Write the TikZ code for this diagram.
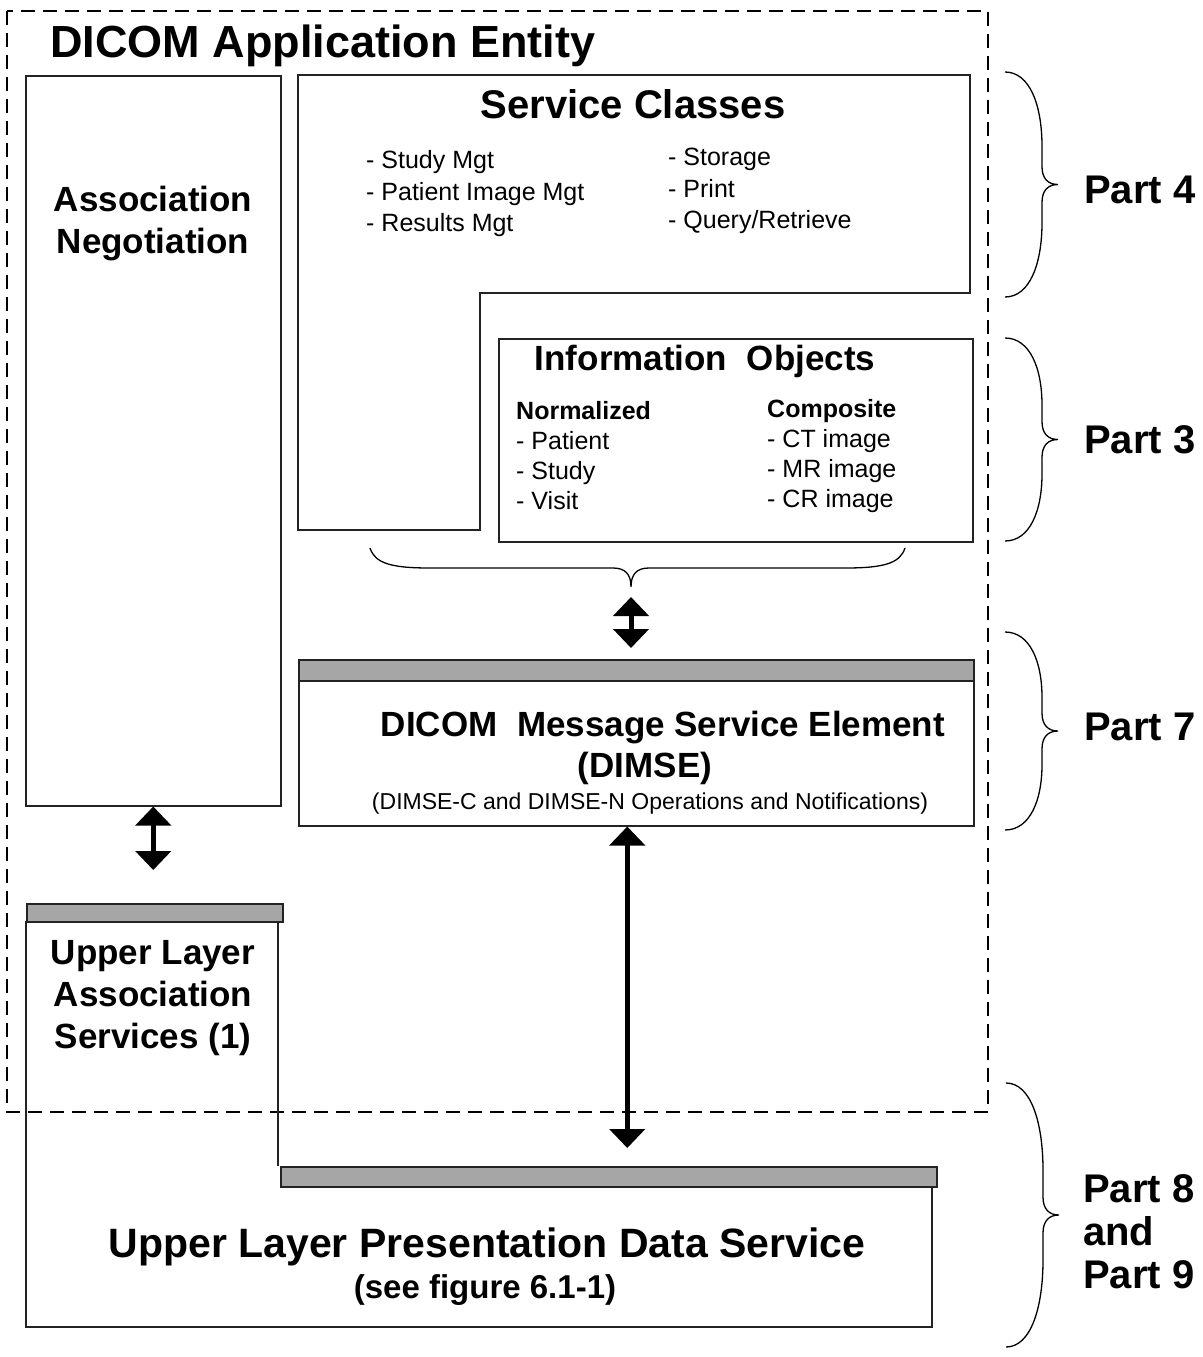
\documentclass[tikz,border=0pt]{standalone}
\usepackage{fontspec}
\setmainfont{Liberation Sans}
\usepackage{tikz}
\usetikzlibrary{arrows.meta}
\definecolor{bargray}{RGB}{166,166,166}
\definecolor{edgegray}{RGB}{35,35,35}

% right hand curly brace: left x, top y, bottom y
\newcommand{\partbrace}[3]{%
  \pgfmathsetmacro{\bh}{#3-#2}
  \pgfmathsetmacro{\bm}{(#2+#3)/2}
  \draw[bracestyle] (#1,#2) .. controls ({#1+25},#2) and ({#1+37},{#2+0.15*\bh}) .. ({#1+37},{#2+0.33*\bh})
    -- ({#1+37},{\bm-18}) .. controls ({#1+37},{\bm-6}) and ({#1+43},\bm) .. ({#1+53},\bm)
    .. controls ({#1+43},\bm) and ({#1+37},{\bm+6}) .. ({#1+37},{\bm+18})
    -- ({#1+37},{#3-0.33*\bh}) .. controls ({#1+37},{#3-0.15*\bh}) and ({#1+25},#3) .. (#1,#3);
}

\tikzset{
  box/.style={draw=edgegray, line width=1.5pt, inner sep=0pt, anchor=north west},
  bar/.style={draw=edgegray, fill=bargray, line width=1.5pt, inner sep=0pt, anchor=north west},
  boxline/.style={draw=edgegray, line width=1.5pt},
  frame/.style={line width=2pt, dash pattern=on 14pt off 8pt},
  bracestyle/.style={line width=1.3pt},
  link/.style={line width=5pt, {Triangle[width=35pt,length=19pt]}-{Triangle[width=35pt,length=19pt]}},
  txt/.style={inner sep=0pt},
  head/.style={txt, font=\bfseries\fontsize{35}{42}\selectfont, align=center},
  item/.style={txt, font=\fontsize{25}{31.5}\selectfont, align=left, anchor=west},
  part/.style={txt, font=\bfseries\fontsize{40}{43}\selectfont, align=left, anchor=west}
}

\begin{document}
\begin{tikzpicture}[x=1pt, y=-1pt]
  \useasboundingbox (0,0) rectangle (1202,1357);
    % application entity
  \draw[frame] (7,11) rectangle (988,1112);
  \node[txt, anchor=base west, font=\bfseries\fontsize{45}{54}\selectfont] (aetitle) at (50,57) {DICOM Application Entity};

    % association negotiation
  \node[box, minimum width=255pt, minimum height=730pt] (assoc) at (25,75) {};
  \node[head] (assoctext) at (153,224) {Association\\Negotiation};

    % service classes
  \draw[boxline] (298,75) -- (970,75) -- (970,293) -- (480,293) -- (480,530) -- (298,530) -- cycle;
  \node[head, font=\bfseries\fontsize{40}{46}\selectfont] (sctitle) at (633,104) {Service Classes};
  \node[item] (scleft) at (366,194) {- Study Mgt\\- Patient Image Mgt\\- Results Mgt};
  \node[item] (scright) at (668,191) {- Storage\\- Print\\- Query/Retrieve};

    % information objects
  \node[box, minimum width=474pt, minimum height=203pt] (info) at (498,338) {};
  \node[head] (infotitle) at (705,361) {Information\ \ Objects};
  \node[item, font=\fontsize{25}{30}\selectfont] (normal) at (516,456) {{\bfseries Normalized}\\- Patient\\- Study\\- Visit};
  \node[item, font=\fontsize{25}{30}\selectfont] (compos) at (767,456) {{\bfseries Composite}\\- CT image\\- MR image\\- CR image};
  \draw[bracestyle] (370,548) .. controls (375,563) and (390,568) .. (430,568)
    -- (613,568) .. controls (625,568) and (631,574) .. (631,587)
    .. controls (631,574) and (637,568) .. (649,568)
    -- (845,568) .. controls (885,568) and (900,563) .. (905,548);
  \coordinate (iotip) at (631,587);

    % dimse
  \node[bar, minimum width=675pt, minimum height=21pt] (dimsebar) at (298,659) {};
  \node[box, minimum width=675pt, minimum height=145pt] (dimse) at (298,680) {};
  \node[head] (dimsetitle) at (663,728) {DICOM\ \ Message Service Element};
  \node[head] (dimseabbr) at (645,768) {(DIMSE)};
  \node[txt, font=\fontsize{23}{28}\selectfont] (dimseops) at (650,804) {(DIMSE-C and DIMSE-N Operations and Notifications)};

    % upper layer
  \node[bar, minimum width=256pt, minimum height=18pt] (ulbar) at (26,903) {};
  \node[head] (ultext) at (153,998) {Upper Layer\\Association\\Services (1)};
  \node[bar, minimum width=656pt, minimum height=20pt] (lowbar) at (280,1166) {};
  \draw[boxline] (26,921) -- (26,1327) -- (932,1327) -- (932,1186);
  \draw[boxline] (278,921) -- (278,1166);
  \node[head, font=\bfseries\fontsize{41}{48}\selectfont] (pdstitle) at (487,1247) {Upper Layer Presentation Data Service};
  \node[head, font=\bfseries\fontsize{33}{40}\selectfont] (pdsref) at (485,1290) {(see figure 6.1-1)};

    % arrows
  \draw[link, shorten <=10pt, shorten >=11pt] (iotip) -- (iotip |- dimsebar.north);
  \draw[link, shorten >=33pt] (assoc.south) -- (assoc.south |- ulbar.north);
  \draw[link, shorten >=18pt] ([xshift=-9pt]dimse.south) -- ([xshift=-9pt]dimse.south |- lowbar.north);

    % parts
  \partbrace{1005}{72}{297}
  \partbrace{1005}{338}{541}
  \partbrace{1005}{632}{830}
  \partbrace{1006}{1083}{1347}
  \node[part] (part4) at (1084,190) {Part 4};
  \node[part] (part3) at (1084,440) {Part 3};
  \node[part] (part7) at (1084,727) {Part 7};
  \node[part] (part89) at (1083,1232) {Part 8\\and\\Part 9};
\end{tikzpicture}
\end{document}
